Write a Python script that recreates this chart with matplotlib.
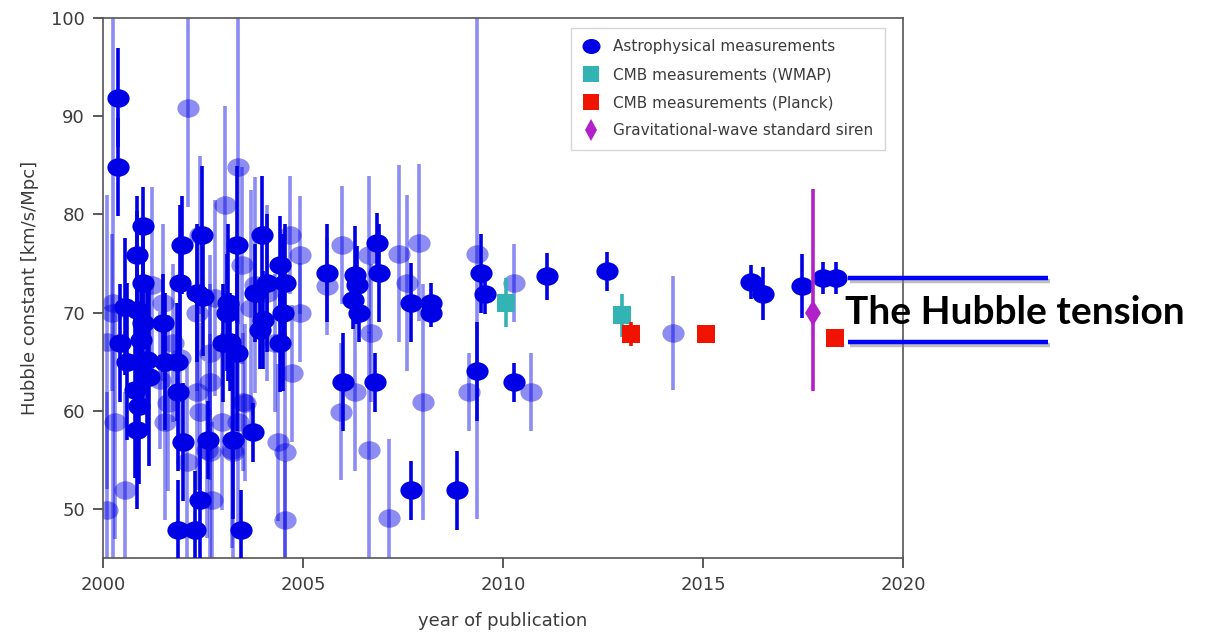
import numpy as np
import matplotlib
matplotlib.use("Agg")
import matplotlib.pyplot as plt
from matplotlib.path import Path
from matplotlib.lines import Line2D
import matplotlib.patheffects as pe

# Astrophysical measurements, opaque points (year, H0, 1-sigma error)
dark_year = [2000.38, 2000.38, 2001.0, 2000.85, 2001.0, 2000.55, 2000.43, 2000.6, 2000.8, 2000.85,
             2000.85, 2001.0, 2000.95, 2001.1, 2001.15, 2000.9, 2001.5, 2001.55, 2001.88, 2002.0,
             2001.88, 2002.3, 2001.98, 2001.93, 2002.35, 2002.63, 2002.43, 2003.25, 2003.45, 2003.75,
             2003.0, 2003.35, 2003.1, 2003.13, 2003.35, 2002.48, 2003.98, 2003.8, 2003.93, 2004.0,
             2004.1, 2004.55, 2004.43, 2004.43, 2004.5, 2002.5, 2003.18, 2001.85,
             2005.6, 2006.3, 2006.35, 2006.25, 2006.4, 2006.85, 2006.9, 2006.0, 2006.8,
             2007.7, 2008.2, 2008.2, 2007.7, 2008.85, 2009.45, 2009.55, 2009.35,
             2010.28, 2011.1, 2012.6, 2016.2, 2016.5, 2017.48, 2018.0, 2018.33]
dark_h0 = [91.9, 84.8, 78.8, 75.9, 73.0, 70.6, 66.9, 65.0, 62.1, 58.0,
           70.3, 68.9, 67.2, 65.2, 63.4, 60.5, 68.9, 65.0, 61.9, 56.8,
           47.9, 47.9, 76.9, 73.0, 72.0, 57.0, 50.9, 57.0, 47.9, 57.8,
           66.9, 65.9, 70.0, 71.0, 76.9, 77.9, 77.9, 72.0, 68.2, 69.2,
           73.0, 73.0, 74.8, 66.9, 70.0, 71.6, 67.0, 65.0,
           74.0, 73.8, 72.8, 71.3, 70.0, 77.1, 74.0, 62.9, 62.9,
           71.0, 71.0, 70.0, 51.9, 51.9, 74.0, 71.9, 64.0,
           62.9, 73.7, 74.2, 73.1, 71.9, 72.7, 73.5, 73.5]
dark_err = [5, 5, 4, 6, 6, 7, 6, 8, 9, 8,
            10, 8, 6, 7, 9, 8, 5, 7, 8, 6,
            5, 6, 5, 8, 7, 4, 6, 8, 4, 3,
            6, 8, 6, 8, 8, 7, 6, 5, 4, 5,
            7, 6, 5, 5, 8, 6, 5, 6,
            5, 5, 4, 3, 3, 3, 5, 5, 3,
            4, 2, 1.5, 3, 4, 4, 2, 5,
            2, 2.4, 2, 1.7, 2.7, 3.3, 1.6, 1.6]

# Astrophysical measurements, faded points
light_year = [2000.1, 2000.25, 2000.55, 2000.22, 2002.13, 2003.05, 2003.38, 2003.48, 2004.68, 2004.93,
              2001.23, 2002.43, 2000.3, 2001.55, 2002.1, 2002.68, 2002.35, 2002.43, 2002.68, 2002.68,
              2003.25, 2003.55, 2002.98, 2004.38, 2004.55, 2004.55, 2004.73, 2004.93, 2004.3, 2002.35,
              2001.75, 2001.43, 2001.63, 2002.73, 2003.5, 2003.38, 2003.23, 2002.6, 2001.93, 2001.5,
              2002.8, 2003.7, 2004.1, 2000.1, 2003.8,
              2005.6, 2005.98, 2006.65, 2006.7, 2005.95, 2006.3, 2006.65, 2007.4, 2007.6, 2007.9,
              2008.0, 2007.15, 2009.15, 2009.35, 2010.28, 2010.7, 2014.25]
light_h0 = [49.9, 71.0, 51.9, 70.0, 90.8, 81.0, 84.8, 74.8, 77.9, 75.9,
            72.8, 77.9, 58.9, 58.9, 54.8, 55.8, 61.9, 59.9, 65.9, 62.9,
            55.8, 60.8, 58.9, 56.8, 55.8, 48.9, 63.8, 70.0, 66.9, 70.0,
            66.9, 63.1, 60.8, 50.9, 60.9, 58.9, 56.0, 56.0, 65.4, 71.0,
            71.5, 70.5, 72.0, 67.0, 72.8,
            72.7, 76.9, 75.9, 67.9, 59.9, 61.9, 56.0, 76.0, 73.0, 77.1,
            60.9, 49.1, 61.9, 76.0, 73.0, 61.9, 67.9]
light_err = [12, 29, 10, 8, 10, 10, 16, 10, 6, 6,
             10, 8, 12, 10, 10, 12, 10, 9, 10, 10,
             12, 8, 9, 8, 12, 6, 7, 5, 7, 8,
             8, 7, 9, 8, 7, 12, 10, 9, 8, 8,
             10, 12, 9, 15, 11,
             5, 6, 8, 7, 7, 8, 12, 9, 9, 8,
             12, 8, 4, 27, 4, 4, 5.8]

# CMB and gravitational-wave results
wmap_year = [2010.08, 2012.98]
wmap_h0 = [71.0, 69.7]
wmap_err = [2.5, 2.2]
planck_year = [2013.2, 2015.08, 2018.3]
planck_h0 = [67.8, 67.8, 67.4]
planck_err = [1.2, 0.9, 0.5]
gw_year = [2017.75]
gw_h0 = [70.0]
gw_err_lo = [8.0]
gw_err_hi = [12.6]

blue = "#0000e6"
grey = "#3c3c3c"

# slightly wide ellipse used as the point marker
circ = Path.unit_circle()
ellipse = Path(circ.vertices * np.array([1.2, 1.0]), circ.codes)

fig = plt.figure(figsize=(12.29, 6.32), dpi=100)
ax = fig.add_axes([0.0838, 0.1171, 0.651, 0.8544])

ax.errorbar(light_year, light_h0, yerr=light_err, fmt="none", ecolor=blue, elinewidth=2.6,
            alpha=0.45, zorder=2)
ax.plot(light_year, light_h0, ls="none", marker=ellipse, ms=16, mew=0, color=blue,
        alpha=0.45, zorder=2)
ax.errorbar(dark_year, dark_h0, yerr=dark_err, fmt="none", ecolor=blue, elinewidth=2.6, zorder=3)
ax.plot(dark_year, dark_h0, ls="none", marker=ellipse, ms=16, mew=0, color=blue, zorder=3)

ax.errorbar(wmap_year, wmap_h0, yerr=wmap_err, fmt="s", color="#33b3b3", ms=13, mew=0,
            elinewidth=2.6, zorder=4)
ax.errorbar(planck_year, planck_h0, yerr=planck_err, fmt="s", color="#f01400", ms=13, mew=0,
            elinewidth=2.6, zorder=5)
ax.errorbar(gw_year, gw_h0, yerr=[gw_err_lo, gw_err_hi], fmt="d", color="#b022c8", ms=13, mew=0,
            elinewidth=2.6, zorder=5)

ax.set_xlim(2000, 2020)
ax.set_ylim(45, 100)
ax.set_xticks([2000, 2005, 2010, 2015, 2020])
ax.set_yticks([50, 60, 70, 80, 90, 100])
ax.tick_params(direction="out", length=7, width=1.2, colors=grey, labelsize=13, pad=6)
for s in ax.spines.values():
    s.set_color("#555555")
    s.set_linewidth(1.2)
ax.set_xlabel("year of publication", fontsize=13, color=grey, labelpad=13)
ax.set_ylabel("Hubble constant [km/s/Mpc]", fontsize=13, color=grey, labelpad=9)

handles = [
    Line2D([], [], ls="none", marker=ellipse, ms=13, mew=0, color=blue),
    Line2D([], [], ls="none", marker="s", ms=11, mew=0, color="#33b3b3"),
    Line2D([], [], ls="none", marker="s", ms=11, mew=0, color="#f01400"),
    Line2D([], [], ls="none", marker="d", ms=11, mew=0, color="#b022c8"),
]
labels = ["Astrophysical measurements", "CMB measurements (WMAP)",
          "CMB measurements (Planck)", "Gravitational-wave standard siren"]
leg = ax.legend(handles, labels, loc="upper right", bbox_to_anchor=(0.9775, 0.9815),
                borderaxespad=0, fontsize=11, frameon=True, fancybox=False,
                handlelength=1.0, handletextpad=1.0, labelspacing=0.85,
                borderpad=0.75, labelcolor=grey)
leg.get_frame().set_edgecolor("#cccccc")
leg.get_frame().set_linewidth(1.0)

# tension band: local distance-ladder level vs Planck level
shadow = [pe.SimpleLineShadow(offset=(1.5, -2), shadow_color="gray", alpha=0.5), pe.Normal()]
for lvl in [73.5, 67.0]:
    ax.plot([2018.62, 2023.62], [lvl, lvl], color="#0000ff", lw=3.2, clip_on=False,
            solid_capstyle="butt", zorder=6, path_effects=shadow)
ax.text(2018.55, 70.0, "The Hubble tension", fontsize=28, fontweight="bold", family="Lato",
        color="black", va="center", ha="left", clip_on=False, zorder=7)

fig.savefig("out.png", dpi=100, facecolor="white")
